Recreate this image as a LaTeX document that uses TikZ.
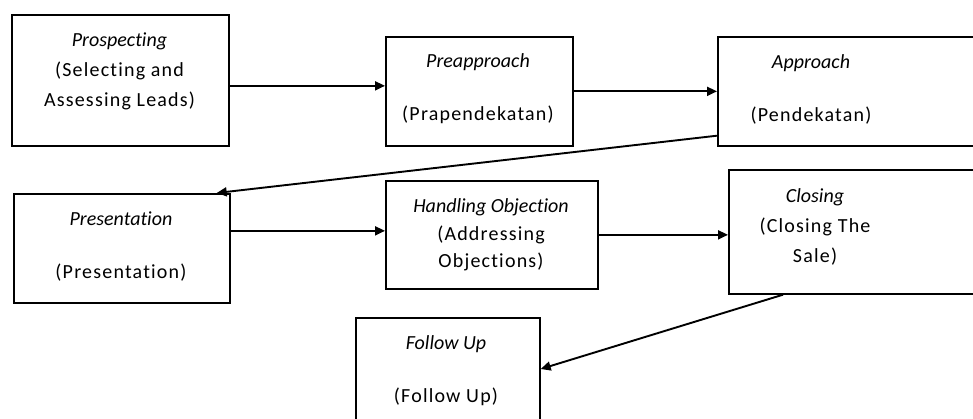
\documentclass[tikz,border=0pt]{standalone}
\usepackage{fontspec}
\setmainfont[Ligatures=NoCommon]{Carlito}
\newfontfamily\spc[LetterSpace=6,Ligatures=NoCommon]{Carlito}
\usetikzlibrary{arrows.meta}
\begin{document}
\begin{tikzpicture}[x=1pt,y=-1pt,
  box/.style={draw, line width=1.7pt, inner sep=0pt, anchor=north west},
  txt/.style={align=center, inner sep=0pt, font=\fontsize{20}{30}\selectfont},
  arr/.style={line width=1.9pt, -{Triangle[length=10pt,width=9pt]}}]
\useasboundingbox (0,0) rectangle (973,419);
\clip (0,0) rectangle (973,419);
\node[box, minimum width=217pt, minimum height=131pt] (prosp) at (11,14) {};
\node[box, minimum width=187pt, minimum height=109pt] (preap) at (385,36) {};
\node[box, minimum width=273pt, minimum height=109pt] (appr) at (717,36) {};
\node[box, minimum width=216pt, minimum height=109pt] (pres) at (13,193) {};
\node[box, minimum width=212pt, minimum height=108pt] (hand) at (385,180) {};
\node[box, minimum width=262pt, minimum height=124pt] (clos) at (728,169) {};
\node[box, minimum width=184pt, minimum height=113pt] (foll) at (355,317) {};

\node[txt] (t1) at (119.5,71) {\textit{Prospecting}\\{\spc(Selecting and}\\{\spc Assessing Leads)}};
\node[txt] (t2) at (478,89) {\textit{Preapproach}\\[23pt]{\spc(Prapendekatan)}};
\node[txt] (t3) at (811,89) {\textit{Approach}\\[23pt]{\spc(Pendekatan)}};
\node[txt] (t4) at (121,247) {\textit{Presentation}\\[23pt]{\spc(Presentation)}};
\node[txt, font=\fontsize{20}{27.5}\selectfont] (t5) at (491,235) {\textit{Handling Objection}\\{\spc(Addressing}\\{\spc Objections)}};
\node[txt] (t6) at (815,227) {\textit{Closing}\\{\spc(Closing The}\\{\spc Sale)}};
\node[txt] (t7) at (446,371) {\textit{Follow Up}\\[23pt]{\spc(Follow Up)}};

\draw[arr] ([yshift=-5.5pt]prosp.east) -- ([yshift=-5.5pt]preap.west |- prosp.east);
\draw[arr] (preap.east) -- (appr.west);
\draw[arr] ([yshift=11pt]appr.south west) -- ([xshift=-14pt]pres.north east);
\draw[arr] ([yshift=17.5pt]pres.east) -- ([yshift=17.5pt]hand.west |- pres.east);
\draw[arr] (hand.east) -- (clos.west |- hand.east);
\draw[arr] ([xshift=55pt]clos.south west) -- ([yshift=-52pt]foll.north east);
\end{tikzpicture}
\end{document}
